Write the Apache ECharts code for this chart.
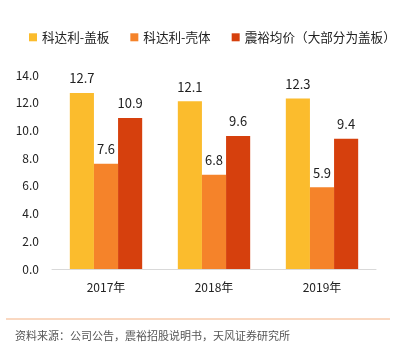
<!DOCTYPE html>
<html><head><meta charset="utf-8">
<script src="https://cdn.jsdelivr.net/npm/echarts@6/dist/echarts.min.js"></script>
<style>html,body{margin:0;padding:0;background:#fff}#c{width:396px;height:350px}</style>
</head><body><div id="c"></div>
<script>
const categories = ['2017年', '2018年', '2019年'];
const seriesNames = ['科达利-盖板', '科达利-壳体', '震裕均价（大部分为盖板）'];
const coverValues = [12.7, 12.1, 12.3];
const shellValues = [7.6, 6.8, 5.9];
const zhenyuValues = [10.9, 9.6, 9.4];
const colors = ['#FBBC2D', '#F5832A', '#D6400D'];
const font = '"Noto Sans CJK SC", "Microsoft YaHei", sans-serif';

const chart = echarts.init(document.getElementById('c'));
const mk = (name, data, color) => ({
  name, type: 'bar', data, barGap: '0%', barCategoryGap: '33%',
  itemStyle: { color },
  label: { show: true, position: 'top', distance: 8, color: '#222', fontSize: 13, fontFamily: font, formatter: p => p.value.toFixed(1) }
});
chart.setOption({
  animation: false,
  textStyle: { fontFamily: font },
  legend: {
    top: 31, left: 29, right: -30, padding: 0,
    itemWidth: 8, itemHeight: 8, itemGap: 21, icon: 'rect',
    textStyle: { fontSize: 12.6, color: '#222', fontFamily: font },
    data: seriesNames
  },
  grid: { left: 52, right: 20, top: 75, bottom: 81 },
  xAxis: {
    type: 'category', data: categories,
    axisLine: { lineStyle: { color: '#D9D9D9' } },
    axisTick: { show: false },
    axisLabel: { color: '#222', fontSize: 12, margin: 12, fontFamily: font }
  },
  yAxis: {
    type: 'value', min: 0, max: 14, interval: 2,
    axisLine: { show: false }, axisTick: { show: false }, splitLine: { show: false },
    axisLabel: { color: '#222', fontSize: 12, margin: 13, fontFamily: font, formatter: v => v.toFixed(1) }
  },
  series: [
    mk(seriesNames[0], coverValues, colors[0]),
    mk(seriesNames[1], shellValues, colors[1]),
    mk(seriesNames[2], zhenyuValues, colors[2])
  ],
  graphic: [
    { type: 'line', shape: { x1: 6, y1: 319, x2: 390, y2: 319 }, style: { stroke: '#F4B183', lineWidth: 1 } },
    { type: 'text', left: 15, top: 330, style: { text: '资料来源：公司公告，震裕招股说明书，天风证券研究所', fill: '#555', fontSize: 11, fontFamily: font } }
  ]
});
</script></body></html>
